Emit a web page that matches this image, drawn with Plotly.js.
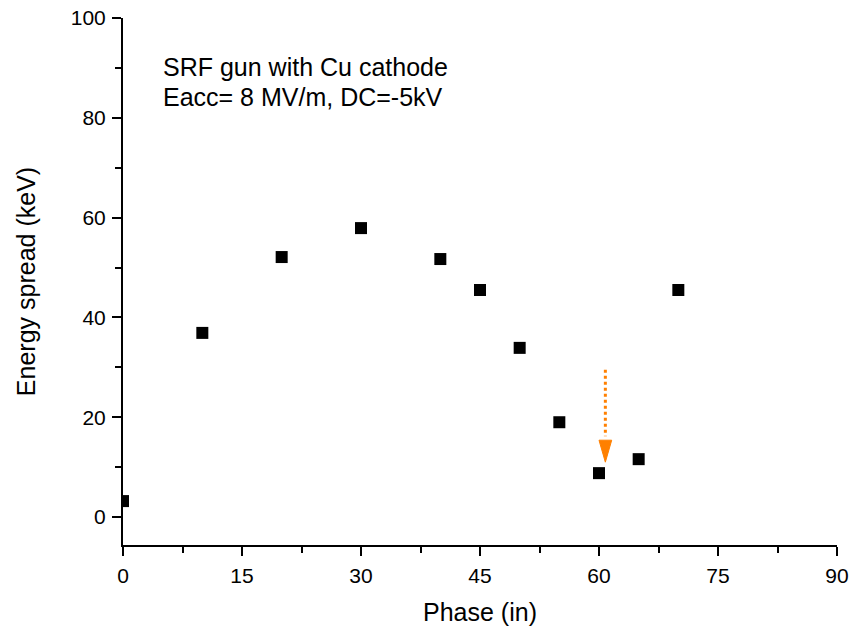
<!DOCTYPE html>
<html>
<head>
<meta charset="utf-8">
<script src="https://cdn.plot.ly/plotly-3.0.1.min.js"></script>
<style>html,body{margin:0;padding:0;background:#fff;}#chart{width:861px;height:627px;}</style>
</head>
<body>
<div id="chart"></div>
<script>
var phase = [0, 10, 20, 30, 40, 45, 50, 55, 60, 65, 70];
var spread = [3.2, 36.9, 52.1, 57.9, 51.7, 45.5, 33.9, 19.0, 8.8, 11.6, 45.5];
var arrowX = [60.8, 60.8];
var arrowY = [29.5, 11.0];
var xTicks = [0, 15, 30, 45, 60, 75, 90];
var yTicks = [0, 20, 40, 60, 80, 100];
var noteLines = ["SRF gun with Cu cathode", "Eacc= 8 MV/m, DC=-5kV"];

var headLen = 4.4, headHalf = 0.8;
var headBase = arrowY[1] + headLen;

var traces = [
  {
    x: phase, y: spread, type: 'scatter', mode: 'markers',
    marker: {symbol: 'square', size: 12, color: '#000'},
    cliponaxis: true, hoverinfo: 'x+y'
  },
  {
    x: arrowX, y: [arrowY[0], headBase + 0.8], type: 'scatter', mode: 'lines',
    line: {color: '#ff8000', width: 3, dash: 'dot'}, hoverinfo: 'skip'
  }
];

var layout = {
  width: 861, height: 627,
  margin: {l: 123, r: 24, t: 18, b: 82},
  paper_bgcolor: '#fff', plot_bgcolor: '#fff',
  showlegend: false,
  font: {family: 'Liberation Sans, Arial, sans-serif', color: '#000'},
  xaxis: {
    range: [0, 90], tickvals: xTicks, ticktext: xTicks.map(String),
    ticks: 'outside', ticklen: 9, tickwidth: 2, tickcolor: '#000',
    showline: true, linewidth: 2, linecolor: '#000', mirror: false,
    showgrid: false, zeroline: false,
    tickfont: {size: 21}, ticklabelstandoff: 2,
    minor: {dtick: 7.5, tick0: 0, ticks: 'outside', ticklen: 6, tickwidth: 2, tickcolor: '#000', showgrid: false},
    title: {text: 'Phase (in)', font: {size: 25}, standoff: 17}
  },
  yaxis: {
    range: [-5.6, 100], tickvals: yTicks, ticktext: yTicks.map(String),
    ticks: 'outside', ticklen: 9, tickwidth: 2, tickcolor: '#000',
    showline: true, linewidth: 2, linecolor: '#000', mirror: false,
    showgrid: false, zeroline: false,
    tickfont: {size: 21}, ticklabelstandoff: 2,
    minor: {dtick: 10, tick0: 0, ticks: 'outside', ticklen: 6, tickwidth: 2, tickcolor: '#000', showgrid: false},
    title: {text: 'Energy spread (keV)', font: {size: 25}, standoff: 28}
  },
  shapes: [
    {
      type: 'path', xref: 'x', yref: 'y',
      path: 'M ' + (arrowX[1] - headHalf) + ' ' + headBase + ' L ' + (arrowX[1] + headHalf) + ' ' + headBase + ' L ' + arrowX[1] + ' ' + arrowY[1] + ' Z',
      fillcolor: '#ff8000', line: {color: '#ff8000', width: 1}
    }
  ],
  annotations: noteLines.map(function (t, i) {
    return {
      text: t, xref: 'paper', yref: 'paper',
      x: (161 - 123) / 714, y: 1 - (67 + i * 30 - 18) / 527,
      xanchor: 'left', yanchor: 'middle', showarrow: false,
      font: {size: 25, color: '#000'}
    };
  })
};

Plotly.newPlot('chart', traces, layout, {displayModeBar: false, staticPlot: true});
</script>
</body>
</html>
